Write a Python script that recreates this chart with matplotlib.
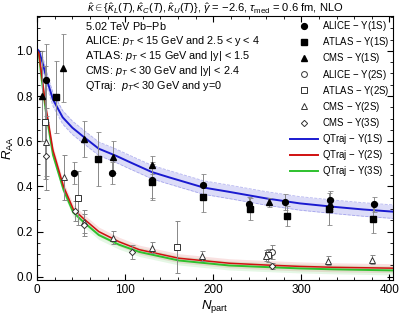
import numpy as np
import matplotlib
matplotlib.use("Agg")
import matplotlib.pyplot as plt
from matplotlib.lines import Line2D
from matplotlib.ticker import MultipleLocator

plt.rcParams['font.family'] = ['Liberation Sans', 'DejaVu Sans']
plt.rcParams['mathtext.fontset'] = 'custom'
plt.rcParams['mathtext.rm'] = 'Liberation Sans'
plt.rcParams['mathtext.it'] = 'Liberation Sans:italic'
plt.rcParams['mathtext.bf'] = 'Liberation Sans:bold'

# QTraj curves
n_1s = [0, 2, 6, 12, 18, 29, 40, 52, 70, 90, 105, 130, 150, 189, 218, 260, 298, 336, 370, 405]
r_1s = [1.007, 1.0, 0.95, 0.86, 0.785, 0.706, 0.66, 0.622, 0.567, 0.535, 0.508, 0.464, 0.44,
        0.395, 0.376, 0.347, 0.325, 0.31, 0.298, 0.288]
n_23 = [0, 2, 5, 10, 18, 30, 41, 52, 70, 93, 116, 161, 218, 260, 298, 336, 405]
r_2s = [1.0, 0.99, 0.9, 0.75, 0.56, 0.40, 0.30, 0.26, 0.20, 0.155, 0.12, 0.082, 0.06, 0.052,
        0.046, 0.042, 0.038]
r_3s = [1.0, 0.985, 0.88, 0.73, 0.54, 0.385, 0.285, 0.245, 0.185, 0.142, 0.11, 0.072, 0.05,
        0.043, 0.037, 0.033, 0.028]

# data points (Npart, RAA, error)
alice1_n = [10.6, 42, 85, 130, 188, 240, 281, 332, 382]
alice1_r = [0.87, 0.46, 0.46, 0.43, 0.408, 0.32, 0.33, 0.34, 0.32]
alice1_e = [0.16, 0.05, 0.05, 0.08, 0.045, 0.035, 0.035, 0.04, 0.035]

atlas1_n = [21, 69, 130, 188, 242, 284, 331, 381]
atlas1_r = [0.797, 0.52, 0.42, 0.351, 0.30, 0.27, 0.30, 0.255]
atlas1_e = [0.16, 0.12, 0.08, 0.065, 0.05, 0.045, 0.07, 0.06]

cms1_n = [6, 29.5, 53, 86, 130, 263, 332]
cms1_r = [0.80, 0.926, 0.61, 0.53, 0.493, 0.33, 0.32]
cms1_e = [0.2, 0.15, 0.08, 0.07, 0.04, 0.02, 0.03]

alice2_n = [267]
alice2_r = [0.11]
alice2_e = [0.03]

atlas2_n = [9, 46, 159, 262]
atlas2_r = [0.685, 0.35, 0.131, 0.095]
atlas2_e = [0.25, 0.12, 0.115, 0.03]

cms2_n = [10, 30, 53, 85.6, 130, 186.7, 260, 330, 380]
cms2_r = [0.596, 0.44, 0.244, 0.173, 0.129, 0.092, 0.093, 0.07, 0.075]
cms2_e = [0.15, 0.1, 0.05, 0.03, 0.025, 0.02, 0.025, 0.02, 0.02]

cms3_n = [10, 42.6, 53, 107.6, 267]
cms3_r = [0.534, 0.29, 0.23, 0.109, 0.048]
cms3_e = [0.15, 0.045, 0.05, 0.03, 0.015]

blue = '#1a1ad0'
red = '#d01010'
green = '#2ec12e'

fig = plt.figure(figsize=(3.99, 3.18), dpi=100)
ax = fig.add_axes([0.093, 0.119, 0.892, 0.831])

# bands
n1 = np.array(n_1s)
r1 = np.array(r_1s)
w1 = np.where(n1 < 5, 0.005, 0.03)
ax.fill_between(n1, r1 - w1, r1 + w1, color=blue, alpha=0.15, lw=0)
ax.plot(n1, r1 - w1, color=blue, alpha=0.3, lw=0.6, ls='--')
ax.plot(n1, r1 + w1, color=blue, alpha=0.3, lw=0.6, ls='--')
n2 = np.array(n_23)
w2 = np.where(n2 < 5, 0.005, 0.02)
ax.fill_between(n2, np.array(r_2s) - w2, np.array(r_2s) + w2, color=red, alpha=0.12, lw=0)
ax.fill_between(n2, np.array(r_3s) - w2, np.array(r_3s) + w2, color=green, alpha=0.12, lw=0)

ax.plot(n_1s, r_1s, color=blue, lw=1.4)
ax.plot(n_23, r_3s, color=green, lw=1.4)
ax.plot(n_23, r_2s, color=red, lw=1.1)

eb = dict(ecolor='#888888', elinewidth=0.7, capsize=1.8, capthick=0.6, ls='none')
ax.errorbar(alice1_n, alice1_r, yerr=alice1_e, marker='o', ms=4.2, mfc='k', mec='k', **eb)
ax.errorbar(atlas1_n, atlas1_r, yerr=atlas1_e, marker='s', ms=4.0, mfc='k', mec='k', **eb)
ax.errorbar(cms1_n, cms1_r, yerr=cms1_e, marker='^', ms=4.5, mfc='k', mec='k', **eb)
ax.errorbar(alice2_n, alice2_r, yerr=alice2_e, marker='o', ms=4.2, mfc='white', mec='#333333', mew=0.7, **eb)
ax.errorbar(atlas2_n, atlas2_r, yerr=atlas2_e, marker='s', ms=4.0, mfc='white', mec='#333333', mew=0.7, **eb)
ax.errorbar(cms2_n, cms2_r, yerr=cms2_e, marker='^', ms=4.5, mfc='white', mec='#333333', mew=0.7, **eb)
ax.errorbar(cms3_n, cms3_r, yerr=cms3_e, marker='D', ms=3.2, mfc='white', mec='#333333', mew=0.7, **eb)

ax.set_xlim(0, 404)
ax.set_ylim(-0.015, 1.155)
ax.xaxis.set_major_locator(MultipleLocator(100))
ax.xaxis.set_minor_locator(MultipleLocator(20))
ax.yaxis.set_major_locator(MultipleLocator(0.2))
ax.yaxis.set_minor_locator(MultipleLocator(0.05))
ax.yaxis.set_major_formatter(matplotlib.ticker.FormatStrFormatter('%.1f'))
ax.tick_params(which='both', direction='in', top=True, right=True, labelsize=8.5)
ax.tick_params(which='major', length=4, width=0.8, pad=3)
ax.tick_params(which='minor', length=2, width=0.6)
ax.set_xlabel(r'$N_{\rm part}$', fontsize=9.5, labelpad=1)
ax.set_ylabel(r'$R_{\rm AA}$', fontsize=9.5, labelpad=0)
ax.set_title(r'$\hat{\kappa}\in\{\hat{\kappa}_L(T),\hat{\kappa}_C(T),\hat{\kappa}_U(T)\}$, '
             r'$\hat{\gamma}$ = $-$2.6, $\tau_{\rm med}$ = 0.6 fm, NLO', fontsize=8, pad=1)

lines = ['5.02 TeV Pb$-$Pb',
         r'ALICE: $p_T$ < 15 GeV and 2.5 < y < 4',
         r'ATLAS: $p_T$ < 15 GeV and |y| < 1.5',
         r'CMS: $p_T$ < 30 GeV and |y| < 2.4',
         r'QTraj:  $p_T$< 30 GeV and y=0']
for i, s in enumerate(lines):
    ax.text(0.135, 0.962 - i * 0.0566, s, transform=ax.transAxes, fontsize=7.8, va='center')

handles = [
    Line2D([], [], ls='none', marker='o', ms=4.2, mfc='k', mec='k'),
    Line2D([], [], ls='none', marker='s', ms=4.0, mfc='k', mec='k'),
    Line2D([], [], ls='none', marker='^', ms=4.5, mfc='k', mec='k'),
    Line2D([], [], ls='none', marker='o', ms=4.2, mfc='white', mec='#333333', mew=0.7),
    Line2D([], [], ls='none', marker='s', ms=4.0, mfc='white', mec='#333333', mew=0.7),
    Line2D([], [], ls='none', marker='^', ms=4.5, mfc='white', mec='#333333', mew=0.7),
    Line2D([], [], ls='none', marker='D', ms=3.2, mfc='white', mec='#333333', mew=0.7),
    Line2D([], [], color=blue, lw=1.4),
    Line2D([], [], color=red, lw=1.4),
    Line2D([], [], color=green, lw=1.4),
]
labels = ['ALICE $-$ \u03a5(1S)', 'ATLAS $-$ \u03a5(1S)', 'CMS $-$ \u03a5(1S)',
          'ALICE $-$ \u03a5(2S)', 'ATLAS $-$ \u03a5(2S)', 'CMS $-$ \u03a5(2S)', 'CMS $-$ \u03a5(3S)',
          'QTraj $-$ \u03a5(1S)', 'QTraj $-$ \u03a5(2S)', 'QTraj $-$ \u03a5(3S)']
ax.legend(handles, labels, loc='upper right', bbox_to_anchor=(1.0, 1.0), frameon=False,
          fontsize=6.9, labelspacing=0.22, handlelength=3.0, handletextpad=0.4,
          borderaxespad=0.15, borderpad=0.2)

fig.savefig('out.png', dpi=100)
